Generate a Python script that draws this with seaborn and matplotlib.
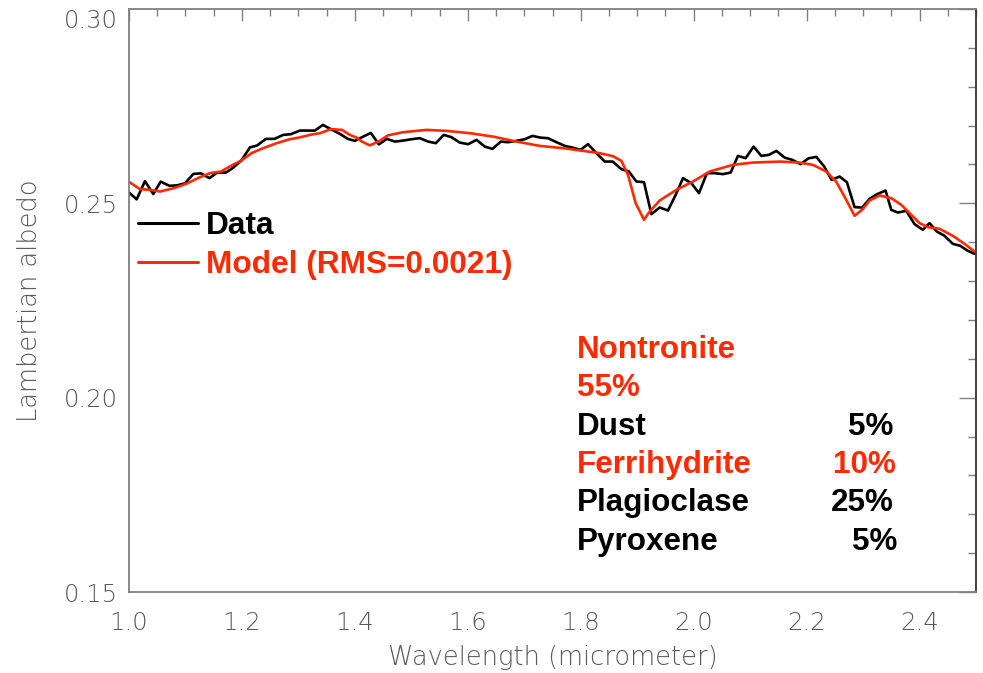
import numpy as np
import pandas as pd
import matplotlib
matplotlib.use("Agg")
import matplotlib.pyplot as plt
import seaborn as sns
from matplotlib.ticker import MultipleLocator, FormatStrFormatter

# Measured spectrum (wavelength in micrometers, Lambertian albedo)
data_wl = [1.000, 1.0136, 1.0283, 1.0430, 1.0561, 1.0717, 1.0850, 1.0991, 1.1142, 1.1274,
           1.1425, 1.1558, 1.1717, 1.1841, 1.1991, 1.2142, 1.2265, 1.2425, 1.2575, 1.2731,
           1.2867, 1.3027, 1.3159, 1.3292, 1.3434, 1.3584, 1.3735, 1.3876, 1.4000, 1.4147,
           1.4283, 1.4425, 1.4566, 1.4708, 1.4855, 1.5004, 1.5150, 1.5297, 1.5434, 1.5575,
           1.5712, 1.5858, 1.6005, 1.6154, 1.6301, 1.6437, 1.6584, 1.6713, 1.6862, 1.7009,
           1.7145, 1.7287, 1.7421, 1.7570, 1.7717, 1.7853, 1.7995, 1.8129, 1.8278, 1.8425,
           1.8566, 1.8720, 1.8850, 1.8986, 1.9120, 1.9251, 1.9398, 1.9545, 1.9681, 1.9811,
           1.9959, 2.0094, 2.0235, 2.0372, 2.0519, 2.0655, 2.0784, 2.0920, 2.1062, 2.1198,
           2.1333, 2.1464, 2.1611, 2.1747, 2.1894, 2.2032, 2.2172, 2.2310, 2.2442, 2.2584,
           2.2713, 2.2850, 2.2986, 2.3115, 2.3251, 2.3398, 2.3499, 2.3616, 2.3765, 2.3912,
           2.4058, 2.4177, 2.4306, 2.4442, 2.4589, 2.4720, 2.4855, 2.4973]
data_albedo = [0.25278, 0.25103, 0.25571, 0.25239, 0.25558, 0.25450, 0.25463, 0.25514, 0.25758, 0.25771,
               0.25648, 0.25789, 0.25792, 0.25913, 0.26105, 0.26440, 0.26486, 0.26658, 0.26658, 0.26761,
               0.26779, 0.26872, 0.26872, 0.26872, 0.27018, 0.26902, 0.26787, 0.26658, 0.26607, 0.26717,
               0.26812, 0.26517, 0.26658, 0.26589, 0.26614, 0.26650, 0.26676, 0.26589, 0.26548, 0.26761,
               0.26702, 0.26563, 0.26522, 0.26633, 0.26460, 0.26401, 0.26589, 0.26573, 0.26607, 0.26650,
               0.26735, 0.26691, 0.26676, 0.26573, 0.26478, 0.26435, 0.26375, 0.26522, 0.26290, 0.26075,
               0.26075, 0.25879, 0.25823, 0.25561, 0.25545, 0.24723, 0.24892, 0.24815, 0.25218, 0.25648,
               0.25519, 0.25262, 0.25776, 0.25776, 0.25751, 0.25792, 0.26221, 0.26162, 0.26460, 0.26221,
               0.26247, 0.26350, 0.26177, 0.26118, 0.26008, 0.26157, 0.26195, 0.25951, 0.25604, 0.25689,
               0.25545, 0.24902, 0.24892, 0.25116, 0.25237, 0.25329, 0.24833, 0.24763, 0.24807, 0.24465,
               0.24319, 0.24491, 0.24275, 0.24165, 0.23959, 0.23908, 0.23779, 0.23702]

# Best-fit mixture model
model_wl = [1.000, 1.0195, 1.0372, 1.0549, 1.0796, 1.1021, 1.1239, 1.1434, 1.1628, 1.1805,
            1.1995, 1.2172, 1.2377, 1.2614, 1.2850, 1.3027, 1.3204, 1.3381, 1.3575, 1.3770,
            1.3912, 1.4030, 1.4124, 1.4265, 1.4425, 1.4584, 1.4855, 1.5269, 1.5623, 1.6035,
            1.6448, 1.6862, 1.7274, 1.7687, 1.8041, 1.8336, 1.8572, 1.8720, 1.8837, 1.8973,
            1.9120, 1.9221, 1.9398, 1.9694, 1.9988, 2.0283, 2.0696, 2.1050, 2.1522, 2.1876,
            2.2112, 2.2349, 2.2526, 2.2673, 2.2850, 2.2996, 2.3115, 2.3292, 2.3499, 2.3676,
            2.3853, 2.4000, 2.4147, 2.4354, 2.4589, 2.4796, 2.4973]
model_albedo = [0.25553, 0.25365, 0.25347, 0.25303, 0.25391, 0.25506, 0.25661, 0.25776, 0.25818, 0.25964,
                0.26105, 0.26293, 0.26419, 0.26547, 0.26650, 0.26697, 0.26761, 0.26805, 0.26908, 0.26890,
                0.26761, 0.26691, 0.26589, 0.26491, 0.26594, 0.26748, 0.26830, 0.26890, 0.26864, 0.26805,
                0.26717, 0.26589, 0.26478, 0.26419, 0.26350, 0.26291, 0.26213, 0.26093, 0.25733, 0.25005,
                0.24576, 0.24790, 0.25072, 0.25347, 0.25561, 0.25818, 0.25990, 0.26049, 0.26075, 0.26047,
                0.25990, 0.25818, 0.25553, 0.25167, 0.24679, 0.24851, 0.25072, 0.25201, 0.25134, 0.24962,
                0.24705, 0.24491, 0.24388, 0.24345, 0.24165, 0.23959, 0.23761]

# Mineral abundances of the model
minerals = ["Dust", "Ferrihydrite", "Plagioclase", "Pyroxene"]
fractions = ["5%", "10%", "25%", "5%"]
mineral_colors = ["black", "#ff2a00", "black", "black"]
main_mineral, main_fraction = "Nontronite", "55%"

x_ticks = [1.0, 1.2, 1.4, 1.6, 1.8, 2.0, 2.2, 2.4]
y_ticks = [0.15, 0.20, 0.25, 0.30]

RED = "#ff2a00"
AXIS_GRAY = "#808080"
LABEL_GRAY = "#5a5a5a"

sns.set_style("white")
plt.rcParams["font.family"] = ["DejaVu Sans"]

W, H = 983, 673
fig = plt.figure(figsize=(W / 100, H / 100), dpi=100)
ax = fig.add_axes([129 / W, 1 - 592 / H, (976 - 129) / W, (592 - 9) / H])

df_data = pd.DataFrame({"wl": data_wl, "albedo": data_albedo})
df_model = pd.DataFrame({"wl": model_wl, "albedo": model_albedo})

sns.lineplot(data=df_data, x="wl", y="albedo", ax=ax, color="black", lw=1.9,
             sort=False, estimator=None, label="Data")
sns.lineplot(data=df_model, x="wl", y="albedo", ax=ax, color=RED, lw=1.9,
             sort=False, estimator=None, label="Model (RMS=0.0021)")

ax.set_xlim(1.0, 2.5)
ax.set_ylim(0.15, 0.30)

ax.set_xticks(x_ticks)
ax.xaxis.set_minor_locator(MultipleLocator(0.05))
ax.set_yticks(y_ticks)
ax.yaxis.set_minor_locator(MultipleLocator(0.01))
ax.xaxis.set_major_formatter(FormatStrFormatter("%.1f"))
ax.yaxis.set_major_formatter(FormatStrFormatter("%.2f"))

tick_font = dict(family="DejaVu Sans", weight="ultralight", size=17.5)
label_font = dict(family="DejaVu Sans", weight="ultralight", size=18.5)
ax.tick_params(axis="both", which="both", direction="in", top=True, right=True,
               colors=AXIS_GRAY, width=1.0, labelcolor=LABEL_GRAY)
ax.tick_params(axis="x", which="major", length=8.6, pad=14)
ax.tick_params(axis="x", which="minor", length=5)
ax.tick_params(axis="y", which="major", length=12.2, pad=8)
ax.tick_params(axis="y", which="minor", length=5.8)
for lab in ax.get_xticklabels() + ax.get_yticklabels():
    lab.set_fontproperties(tick_font)
# keep the top value label inside the canvas
ax.yaxis.get_major_ticks()[-1].label1.set_verticalalignment("top")

ax.set_xlabel("Wavelength (micrometer)", color=LABEL_GRAY, fontdict=label_font, labelpad=7)
ax.set_ylabel("Lambertian albedo", color=LABEL_GRAY, fontdict=label_font, labelpad=16)

for side in ["left", "bottom", "top"]:
    ax.spines[side].set_color(AXIS_GRAY)
    ax.spines[side].set_linewidth(1.3)
ax.spines["right"].set_color("#333333")
ax.spines["right"].set_linewidth(1.3)

# Legend in bold sans, labels coloured like their lines
leg = ax.legend(loc="upper left", bbox_to_anchor=(0.0106, 0.654), frameon=False,
                prop=dict(family="Liberation Sans", weight="bold", size=22.8),
                handlelength=1.9, handletextpad=0.25, labelspacing=0.3,
                borderpad=0, borderaxespad=0, labelcolor="linecolor")
for line in leg.get_lines():
    line.set_linewidth(2.2)

# Mixture composition table
text_font = dict(family="Liberation Sans", weight="bold", size=22.6)
fig.text(577 / W, 1 - 358.5 / H, main_mineral, color=RED, ha="left", va="baseline", **text_font)
fig.text(577 / W, 1 - 396.5 / H, main_fraction, color=RED, ha="left", va="baseline", **text_font)
right_edges = [893, 896, 894, 897]
for i, (name, frac, col) in enumerate(zip(minerals, fractions, mineral_colors)):
    yb = 435 + i * 38.2
    fig.text(577 / W, 1 - yb / H, name, color=col, ha="left", va="baseline", **text_font)
    fig.text(right_edges[i] / W, 1 - yb / H, frac, color=col, ha="right", va="baseline", **text_font)

fig.savefig("out.png", dpi=100)
